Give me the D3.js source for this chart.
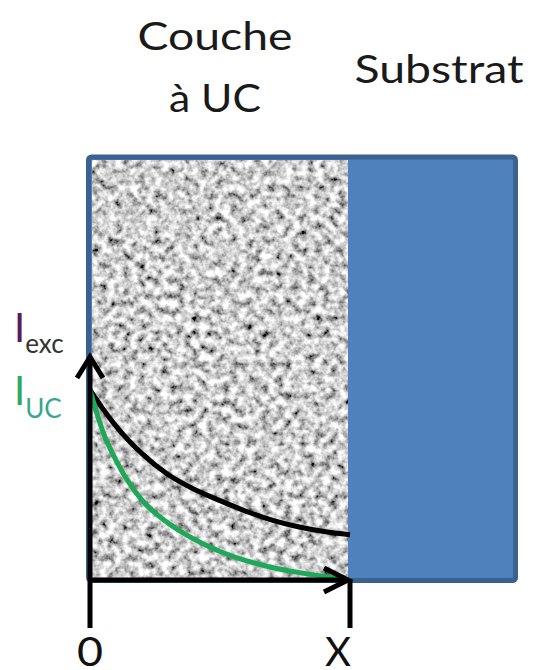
<!DOCTYPE html>
<html>
<head>
<meta charset="utf-8">
<script src="https://cdn.jsdelivr.net/npm/d3@7"></script>
<style>
    body { margin: 0; background: #fff; }
    text { font-family: Lato, "Liberation Sans", sans-serif; }
</style>
</head>
<body>
<div id="chart"></div>
<script>
// depth (0 = surface, 1 = X) and relative intensity
var depth = [0, 0.05, 0.1, 0.2, 0.3, 0.4, 0.5, 0.6, 0.7, 0.8, 0.9, 1.0];
var excValues = [1.0, 0.9, 0.81, 0.665, 0.555, 0.478, 0.418, 0.362, 0.315, 0.28, 0.255, 0.238];
var ucValues = [1.0, 0.78, 0.63, 0.42, 0.3, 0.215, 0.15, 0.102, 0.066, 0.04, 0.018, 0.0];
var tickLabels = ["0", "X"];
var layerLabel = ["Couche", "à UC"];
var substrateLabel = "Substrat";

var width = 534,
    height = 670;

var svg = d3.select("#chart")
    .append("svg")
    .attr("width", width)
    .attr("height", height);

// Define scale
var x = d3.scaleLinear()
    .domain([0, 1])
    .range([90, 350]);

var y = d3.scaleLinear()
    .domain([0, 1])
    .range([580, 390]);

// grainy texture of the layer
var filter = svg.append("defs")
    .append("filter")
    .attr("id", "grain")
    .attr("x", 0).attr("y", 0)
    .attr("width", 1).attr("height", 1);
filter.append("feTurbulence")
    .attr("type", "fractalNoise")
    .attr("baseFrequency", 0.13)
    .attr("numOctaves", 3)
    .attr("seed", 7);
filter.append("feGaussianBlur")
    .attr("stdDeviation", 0.7);
filter.append("feColorMatrix")
    .attr("type", "matrix")
    .attr("values", "1.9 0 0 0 -0.33  1.9 0 0 0 -0.33  1.9 0 0 0 -0.33  0 0 0 0 1");

// substrate box (whole block)
svg.append("rect")
    .attr("x", 88.5)
    .attr("y", 157)
    .attr("width", 427)
    .attr("height", 423.5)
    .attr("rx", 3)
    .style("fill", "#4f81bd")
    .style("stroke", "#3b6191")
    .style("stroke-width", 5);

// layer
svg.append("rect")
    .attr("x", 92)
    .attr("y", 160)
    .attr("width", x(1) - 2 - 92)
    .attr("height", 418)
    .attr("filter", "url(#grain)");

// headings (the source picture is stretched sideways)
var layerWidths = [155, 92];
svg.selectAll(".layer-label")
    .data(layerLabel)
    .enter()
    .append("text")
    .attr("class", "layer-label")
    .attr("text-anchor", "middle")
    .attr("x", 215)
    .attr("y", function(d, i) { return 50 + i * 62; })
    .attr("textLength", function(d, i) { return layerWidths[i]; })
    .attr("lengthAdjust", "spacingAndGlyphs")
    .style("font-size", "39px")
    .style("fill", "#1a1a1a")
    .text(function(d) { return d; });

svg.append("text")
    .attr("text-anchor", "middle")
    .attr("x", 439)
    .attr("y", 83)
    .attr("textLength", 169)
    .attr("lengthAdjust", "spacingAndGlyphs")
    .style("font-size", "39px")
    .style("fill", "#1a1a1a")
    .text(substrateLabel);

// curves
var line = d3.line()
    .x(function(d) { return x(d[0]); })
    .y(function(d) { return y(d[1]); })
    .curve(d3.curveMonotoneX);

svg.append("path")
    .attr("d", line(d3.zip(depth, excValues)))
    .style("fill", "none")
    .style("stroke", "#000")
    .style("stroke-width", 5);

svg.append("path")
    .attr("d", line(d3.zip(depth, ucValues)))
    .style("fill", "none")
    .style("stroke", "#1fa75a")
    .style("stroke-width", 5);

// axes with open arrow heads
var axes = svg.append("g")
    .style("fill", "none")
    .style("stroke", "#000")
    .style("stroke-width", 5)
    .style("stroke-linecap", "butt");

axes.append("line")
    .attr("x1", x(0)).attr("y1", y(0) + 48)
    .attr("x2", x(0)).attr("y2", 357);
axes.append("path")
    .attr("d", "M" + (x(0) - 13) + ",378L" + x(0) + ",357L" + (x(0) + 13) + ",378");

axes.append("line")
    .attr("x1", x(0) - 2).attr("y1", y(0))
    .attr("x2", x(1) - 2).attr("y2", y(0));
axes.append("path")
    .attr("d", "M" + (x(1) - 26) + "," + (y(0) - 12) + "L" + (x(1) - 2) + "," + y(0) + "L" + (x(1) - 26) + "," + (y(0) + 12));
axes.append("line")
    .attr("x1", x(1)).attr("y1", y(0))
    .attr("x2", x(1)).attr("y2", y(0) + 48);

svg.selectAll(".tick-label")
    .data(tickLabels)
    .enter()
    .append("text")
    .attr("class", "tick-label")
    .attr("text-anchor", "middle")
    .attr("x", function(d, i) { return x(i) + (i ? -12 : 0); })
    .attr("y", 666)
    .attr("textLength", 26)
    .attr("lengthAdjust", "spacingAndGlyphs")
    .style("font-size", "40px")
    .style("fill", "#111")
    .text(function(d) { return d; });

// I labels
var iexc = svg.append("text")
    .attr("x", 14)
    .attr("y", 342)
    .style("font-size", "40px");
iexc.append("tspan").style("fill", "#5a1a5c").text("I");
iexc.append("tspan").attr("dy", 11).style("font-size", "26px").style("fill", "#333").text("exc");

var iuc = svg.append("text")
    .attr("x", 14)
    .attr("y", 405)
    .style("font-size", "40px");
iuc.append("tspan").style("fill", "#2ea862").text("I");
iuc.append("tspan").attr("dy", 13).style("font-size", "26px").style("fill", "#38a88c").text("UC");
</script>
</body>
</html>
